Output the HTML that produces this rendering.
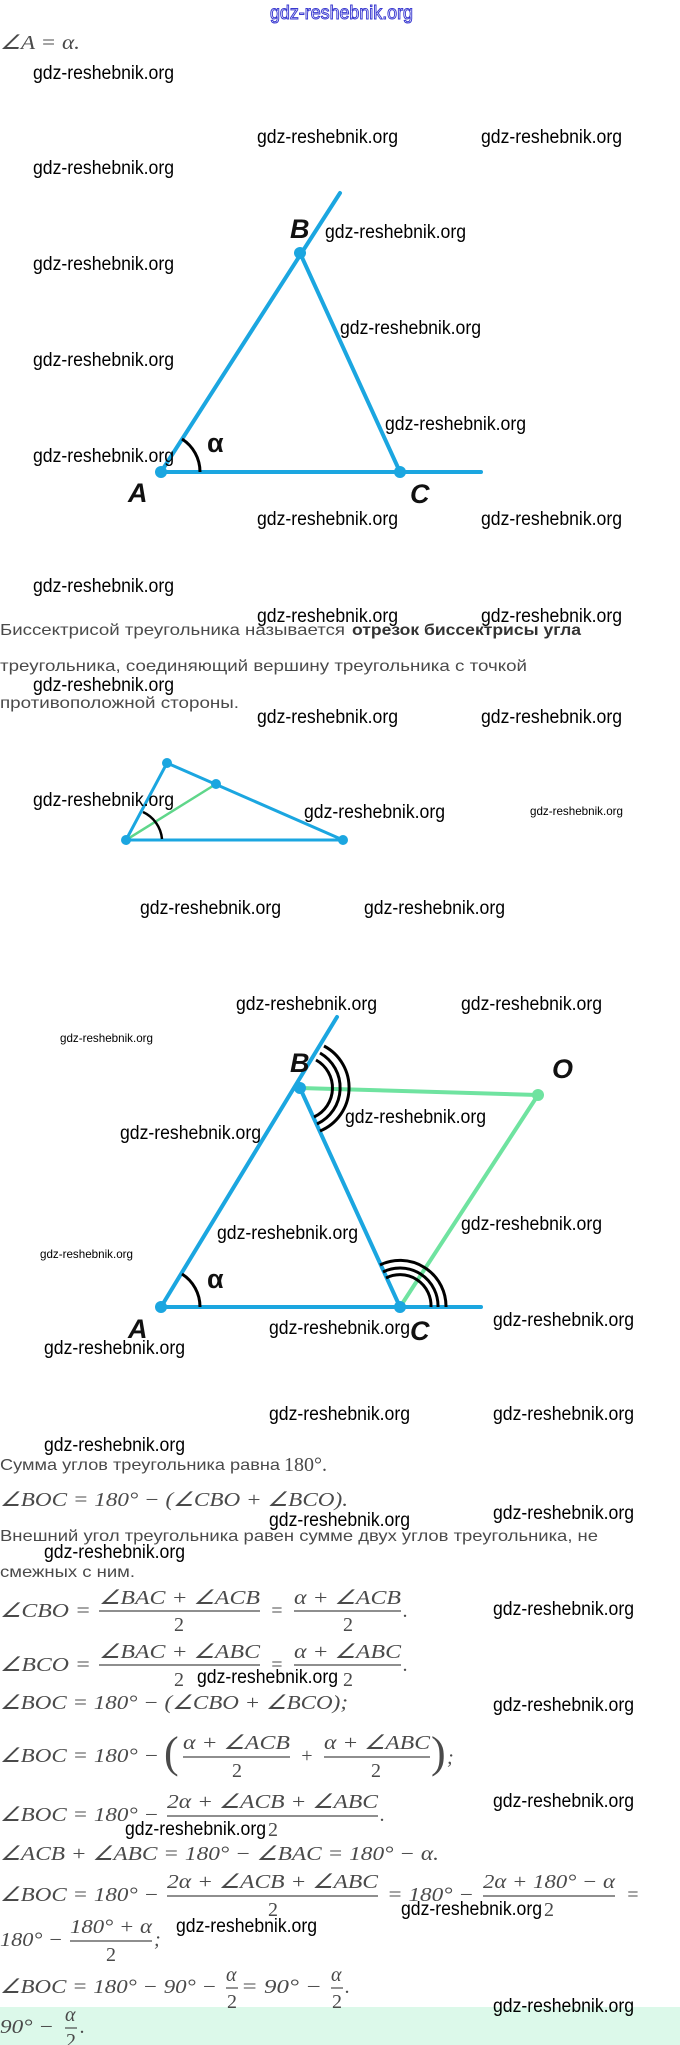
<!DOCTYPE html>
<html><head><meta charset="utf-8"><style>
html,body{margin:0;padding:0;background:#fff;}
svg{display:block;}
.w{font-family:"Liberation Sans Narrow","Liberation Sans",sans-serif;font-size:19px;fill:#000;}
.ws{font-family:"Liberation Sans Narrow","Liberation Sans",sans-serif;font-size:12px;fill:#000;}
.t{font-family:"Liberation Sans",sans-serif;font-size:16px;fill:#4a4a4a;}
.m{font-family:"Liberation Serif",serif;font-size:20px;fill:#4a4a4a;font-style:italic;}
.l{font-family:"Liberation Sans",sans-serif;font-size:27px;font-weight:bold;font-style:italic;fill:#111;}
</style></head><body>
<svg width="680" height="2045" viewBox="0 0 680 2045" xmlns="http://www.w3.org/2000/svg">
<rect x="0" y="2007" width="680" height="38" fill="#dcf9ea"/>
<text x="270" y="19" font-family="Liberation Sans Narrow, Liberation Sans, sans-serif" font-size="19" fill="#fff" stroke="#3a3ad0" stroke-width="1" textLength="143" lengthAdjust="spacingAndGlyphs">gdz-reshebnik.org</text>
<text class="m" x="0" y="49" textLength="80" lengthAdjust="spacingAndGlyphs">∠A = α.</text>

<g stroke="#1ba6e0" stroke-width="4" fill="none" stroke-linecap="round">
<line x1="161" y1="472" x2="340" y2="193"/>
<line x1="300" y1="253" x2="400" y2="472"/>
<line x1="161" y1="472" x2="481" y2="472"/>
</g>
<g fill="#1ba6e0"><circle cx="161" cy="472" r="6"/><circle cx="300" cy="253" r="6"/><circle cx="400" cy="472" r="6"/></g>
<path d="M182,439 A39,39 0 0 1 200,472" stroke="#000" stroke-width="3" fill="none"/>
<text class="l" x="290" y="238">B</text>
<text class="l" x="128" y="502">A</text>
<text class="l" x="410" y="503">C</text>
<text class="l" x="207" y="452" style="font-style:normal">α</text>

<text class="t" x="0" y="635" textLength="345" lengthAdjust="spacingAndGlyphs">Биссектрисой треугольника называется</text>
<text class="t" x="352" y="635" font-weight="bold" textLength="229" lengthAdjust="spacingAndGlyphs" style="fill:#333">отрезок биссектрисы угла</text>
<text class="t" x="0" y="671" textLength="527" lengthAdjust="spacingAndGlyphs">треугольника, соединяющий вершину треугольника с точкой</text>
<text class="t" x="0" y="708" textLength="239" lengthAdjust="spacingAndGlyphs">противоположной стороны.</text>

<g stroke="#1ba6e0" stroke-width="3" fill="none">
<polyline points="126,840 167,763 343,840 126,840"/>
</g>
<line x1="126" y1="840" x2="216" y2="784" stroke="#5fd68a" stroke-width="2.5"/>
<path d="M143,812 A33,33 0 0 1 162,839" stroke="#000" stroke-width="2.5" fill="none"/>
<g fill="#1ba6e0"><circle cx="126" cy="840" r="5"/><circle cx="167" cy="763" r="5"/><circle cx="216" cy="784" r="5"/><circle cx="343" cy="840" r="5"/></g>

<g stroke="#6fe3a0" stroke-width="4" fill="none" stroke-linecap="round">
<line x1="300" y1="1088" x2="538" y2="1095"/>
<line x1="538" y1="1095" x2="400" y2="1307"/>
</g>
<g stroke="#1ba6e0" stroke-width="4" fill="none" stroke-linecap="round">
<line x1="161" y1="1307" x2="337" y2="1017"/>
<line x1="300" y1="1088" x2="400" y2="1307"/>
<line x1="161" y1="1307" x2="481" y2="1307"/>
</g>
<g fill="#1ba6e0"><circle cx="161" cy="1307" r="6"/><circle cx="300" cy="1088" r="6"/><circle cx="400" cy="1307" r="6"/><circle cx="538" cy="1095" r="6" fill="#6fe3a0"/></g>
<g stroke="#000" stroke-width="3" fill="none">
<path d="M316,1060 A32,32 0 0 1 314,1117"/>
<path d="M320,1053 A40,40 0 0 1 317,1124"/>
<path d="M324,1046 A47,47 0 0 1 320,1131"/>
<path d="M386,1278 A31,31 0 0 1 431,1307"/>
<path d="M383,1272 A38,38 0 0 1 438,1307"/>
<path d="M380,1265 A46,46 0 0 1 446,1307"/>
</g>
<path d="M182,1274 A39,39 0 0 1 200,1307" stroke="#000" stroke-width="3" fill="none"/>
<text class="l" x="290" y="1072">B</text>
<text class="l" x="552" y="1078">O</text>
<text class="l" x="128" y="1338">A</text>
<text class="l" x="410" y="1340">C</text>
<text class="l" x="207" y="1288" style="font-style:normal">α</text>

<text class="t" x="0" y="1470" textLength="280" lengthAdjust="spacingAndGlyphs">Сумма углов треугольника равна</text>
<text class="m" x="284" y="1471" style="font-style:normal">180°.</text>
<text class="m" x="0" y="1506" textLength="348" lengthAdjust="spacingAndGlyphs">∠BOC = 180° − (∠CBO + ∠BCO).</text>
<text class="t" x="0" y="1541" textLength="598" lengthAdjust="spacingAndGlyphs">Внешний угол треугольника равен сумме двух углов треугольника, не</text>
<text class="t" x="0" y="1577" textLength="135" lengthAdjust="spacingAndGlyphs">смежных с ним.</text>

<g stroke="#4a4a4a" stroke-width="1.2">
<line x1="99" y1="1611" x2="260" y2="1611"/><line x1="294" y1="1611" x2="401" y2="1611"/>
<line x1="99" y1="1665" x2="260" y2="1665"/><line x1="294" y1="1665" x2="401" y2="1665"/>
<line x1="183" y1="1757" x2="290" y2="1757"/><line x1="324" y1="1757" x2="430" y2="1757"/>
<line x1="167" y1="1816" x2="378" y2="1816"/>
<line x1="167" y1="1896" x2="378" y2="1896"/><line x1="483" y1="1896" x2="615" y2="1896"/>
<line x1="70" y1="1941" x2="152" y2="1941"/>
<line x1="226" y1="1988" x2="238" y2="1988"/><line x1="331" y1="1988" x2="343" y2="1988"/>
<line x1="65" y1="2028" x2="77" y2="2028"/>
</g>
<text class="m" x="0" y="1617" textLength="91" lengthAdjust="spacingAndGlyphs">∠CBO =</text>
<text class="m" x="99" y="1604" textLength="161" lengthAdjust="spacingAndGlyphs">∠BAC + ∠ACB</text>
<text class="m" x="174" y="1631" style="font-style:normal">2</text>
<text class="m" x="270" y="1617">=</text>
<text class="m" x="294" y="1604" textLength="107" lengthAdjust="spacingAndGlyphs">α + ∠ACB</text>
<text class="m" x="343" y="1631" style="font-style:normal">2</text>
<text class="m" x="403" y="1617">.</text>

<text class="m" x="0" y="1671" textLength="91" lengthAdjust="spacingAndGlyphs">∠BCO =</text>
<text class="m" x="99" y="1658" textLength="161" lengthAdjust="spacingAndGlyphs">∠BAC + ∠ABC</text>
<text class="m" x="174" y="1686" style="font-style:normal">2</text>
<text class="m" x="270" y="1671">=</text>
<text class="m" x="294" y="1658" textLength="107" lengthAdjust="spacingAndGlyphs">α + ∠ABC</text>
<text class="m" x="343" y="1686" style="font-style:normal">2</text>
<text class="m" x="403" y="1671">.</text>

<text class="m" x="0" y="1709" textLength="348" lengthAdjust="spacingAndGlyphs">∠BOC = 180° − (∠CBO + ∠BCO);</text>

<text class="m" x="0" y="1762" textLength="159" lengthAdjust="spacingAndGlyphs">∠BOC = 180° −</text>
<text class="m" x="164" y="1767" style="font-style:normal;font-size:44px">(</text>
<text class="m" x="183" y="1749" textLength="107" lengthAdjust="spacingAndGlyphs">α + ∠ACB</text>
<text class="m" x="232" y="1777" style="font-style:normal">2</text>
<text class="m" x="300" y="1762">+</text>
<text class="m" x="324" y="1749" textLength="106" lengthAdjust="spacingAndGlyphs">α + ∠ABC</text>
<text class="m" x="371" y="1777" style="font-style:normal">2</text>
<text class="m" x="431" y="1767" style="font-style:normal;font-size:44px">)</text>
<text class="m" x="447" y="1764">;</text>

<text class="m" x="0" y="1821" textLength="159" lengthAdjust="spacingAndGlyphs">∠BOC = 180° −</text>
<text class="m" x="167" y="1808" textLength="211" lengthAdjust="spacingAndGlyphs">2α + ∠ACB + ∠ABC</text>
<text class="m" x="268" y="1836" style="font-style:normal">2</text>
<text class="m" x="380" y="1821">.</text>

<text class="m" x="0" y="1860" textLength="439" lengthAdjust="spacingAndGlyphs">∠ACB + ∠ABC = 180° − ∠BAC = 180° − α.</text>

<text class="m" x="0" y="1901" textLength="159" lengthAdjust="spacingAndGlyphs">∠BOC = 180° −</text>
<text class="m" x="167" y="1888" textLength="211" lengthAdjust="spacingAndGlyphs">2α + ∠ACB + ∠ABC</text>
<text class="m" x="268" y="1916" style="font-style:normal">2</text>
<text class="m" x="387" y="1901" textLength="87" lengthAdjust="spacingAndGlyphs">= 180° −</text>
<text class="m" x="483" y="1888" textLength="132" lengthAdjust="spacingAndGlyphs">2α + 180° − α</text>
<text class="m" x="544" y="1916" style="font-style:normal">2</text>
<text class="m" x="626" y="1901">=</text>

<text class="m" x="0" y="1946" textLength="63" lengthAdjust="spacingAndGlyphs">180° −</text>
<text class="m" x="70" y="1933" textLength="82" lengthAdjust="spacingAndGlyphs">180° + α</text>
<text class="m" x="106" y="1961" style="font-style:normal">2</text>
<text class="m" x="154" y="1946">;</text>

<text class="m" x="0" y="1993" textLength="217" lengthAdjust="spacingAndGlyphs">∠BOC = 180° − 90° −</text>
<text class="m" x="226" y="1981">α</text>
<text class="m" x="227" y="2008" style="font-style:normal">2</text>
<text class="m" x="241" y="1993" textLength="81" lengthAdjust="spacingAndGlyphs">= 90° −</text>
<text class="m" x="331" y="1981">α</text>
<text class="m" x="332" y="2008" style="font-style:normal">2</text>
<text class="m" x="345" y="1993">.</text>

<text class="m" x="0" y="2033" textLength="54" lengthAdjust="spacingAndGlyphs">90° −</text>
<text class="m" x="65" y="2021">α</text>
<text class="m" x="66" y="2047" style="font-style:normal">2</text>
<text class="m" x="80" y="2033">.</text>

<g>
<text class="w" x="33" y="79" textLength="141" lengthAdjust="spacingAndGlyphs">gdz-reshebnik.org</text>
<text class="w" x="257" y="143" textLength="141" lengthAdjust="spacingAndGlyphs">gdz-reshebnik.org</text>
<text class="w" x="481" y="143" textLength="141" lengthAdjust="spacingAndGlyphs">gdz-reshebnik.org</text>
<text class="w" x="33" y="174" textLength="141" lengthAdjust="spacingAndGlyphs">gdz-reshebnik.org</text>
<text class="w" x="325" y="238" textLength="141" lengthAdjust="spacingAndGlyphs">gdz-reshebnik.org</text>
<text class="w" x="33" y="270" textLength="141" lengthAdjust="spacingAndGlyphs">gdz-reshebnik.org</text>
<text class="w" x="340" y="334" textLength="141" lengthAdjust="spacingAndGlyphs">gdz-reshebnik.org</text>
<text class="w" x="33" y="366" textLength="141" lengthAdjust="spacingAndGlyphs">gdz-reshebnik.org</text>
<text class="w" x="385" y="430" textLength="141" lengthAdjust="spacingAndGlyphs">gdz-reshebnik.org</text>
<text class="w" x="33" y="462" textLength="141" lengthAdjust="spacingAndGlyphs">gdz-reshebnik.org</text>
<text class="w" x="257" y="525" textLength="141" lengthAdjust="spacingAndGlyphs">gdz-reshebnik.org</text>
<text class="w" x="481" y="525" textLength="141" lengthAdjust="spacingAndGlyphs">gdz-reshebnik.org</text>
<text class="w" x="33" y="592" textLength="141" lengthAdjust="spacingAndGlyphs">gdz-reshebnik.org</text>
<text class="w" x="257" y="622" textLength="141" lengthAdjust="spacingAndGlyphs">gdz-reshebnik.org</text>
<text class="w" x="481" y="622" textLength="141" lengthAdjust="spacingAndGlyphs">gdz-reshebnik.org</text>
<text class="w" x="33" y="691" textLength="141" lengthAdjust="spacingAndGlyphs">gdz-reshebnik.org</text>
<text class="w" x="257" y="723" textLength="141" lengthAdjust="spacingAndGlyphs">gdz-reshebnik.org</text>
<text class="w" x="481" y="723" textLength="141" lengthAdjust="spacingAndGlyphs">gdz-reshebnik.org</text>
<text class="w" x="33" y="806" textLength="141" lengthAdjust="spacingAndGlyphs">gdz-reshebnik.org</text>
<text class="w" x="304" y="818" textLength="141" lengthAdjust="spacingAndGlyphs">gdz-reshebnik.org</text>
<text class="w" x="140" y="914" textLength="141" lengthAdjust="spacingAndGlyphs">gdz-reshebnik.org</text>
<text class="w" x="364" y="914" textLength="141" lengthAdjust="spacingAndGlyphs">gdz-reshebnik.org</text>
<text class="w" x="236" y="1010" textLength="141" lengthAdjust="spacingAndGlyphs">gdz-reshebnik.org</text>
<text class="w" x="461" y="1010" textLength="141" lengthAdjust="spacingAndGlyphs">gdz-reshebnik.org</text>
<text class="w" x="345" y="1123" textLength="141" lengthAdjust="spacingAndGlyphs">gdz-reshebnik.org</text>
<text class="w" x="120" y="1139" textLength="141" lengthAdjust="spacingAndGlyphs">gdz-reshebnik.org</text>
<text class="w" x="461" y="1230" textLength="141" lengthAdjust="spacingAndGlyphs">gdz-reshebnik.org</text>
<text class="w" x="217" y="1239" textLength="141" lengthAdjust="spacingAndGlyphs">gdz-reshebnik.org</text>
<text class="w" x="493" y="1326" textLength="141" lengthAdjust="spacingAndGlyphs">gdz-reshebnik.org</text>
<text class="w" x="269" y="1334" textLength="141" lengthAdjust="spacingAndGlyphs">gdz-reshebnik.org</text>
<text class="w" x="44" y="1354" textLength="141" lengthAdjust="spacingAndGlyphs">gdz-reshebnik.org</text>
<text class="w" x="269" y="1420" textLength="141" lengthAdjust="spacingAndGlyphs">gdz-reshebnik.org</text>
<text class="w" x="493" y="1420" textLength="141" lengthAdjust="spacingAndGlyphs">gdz-reshebnik.org</text>
<text class="w" x="44" y="1451" textLength="141" lengthAdjust="spacingAndGlyphs">gdz-reshebnik.org</text>
<text class="w" x="493" y="1519" textLength="141" lengthAdjust="spacingAndGlyphs">gdz-reshebnik.org</text>
<text class="w" x="269" y="1526" textLength="141" lengthAdjust="spacingAndGlyphs">gdz-reshebnik.org</text>
<text class="w" x="44" y="1558" textLength="141" lengthAdjust="spacingAndGlyphs">gdz-reshebnik.org</text>
<text class="w" x="493" y="1615" textLength="141" lengthAdjust="spacingAndGlyphs">gdz-reshebnik.org</text>
<text class="w" x="197" y="1683" textLength="141" lengthAdjust="spacingAndGlyphs">gdz-reshebnik.org</text>
<text class="w" x="493" y="1711" textLength="141" lengthAdjust="spacingAndGlyphs">gdz-reshebnik.org</text>
<text class="w" x="493" y="1807" textLength="141" lengthAdjust="spacingAndGlyphs">gdz-reshebnik.org</text>
<text class="w" x="125" y="1835" textLength="141" lengthAdjust="spacingAndGlyphs">gdz-reshebnik.org</text>
<text class="w" x="401" y="1915" textLength="141" lengthAdjust="spacingAndGlyphs">gdz-reshebnik.org</text>
<text class="w" x="176" y="1932" textLength="141" lengthAdjust="spacingAndGlyphs">gdz-reshebnik.org</text>
<text class="w" x="493" y="2012" textLength="141" lengthAdjust="spacingAndGlyphs">gdz-reshebnik.org</text>
</g>
<text class="ws" x="530" y="815" textLength="93" lengthAdjust="spacingAndGlyphs">gdz-reshebnik.org</text>
<text class="ws" x="60" y="1042" textLength="93" lengthAdjust="spacingAndGlyphs">gdz-reshebnik.org</text>
<text class="ws" x="40" y="1258" textLength="93" lengthAdjust="spacingAndGlyphs">gdz-reshebnik.org</text>
</svg>
</body></html>
